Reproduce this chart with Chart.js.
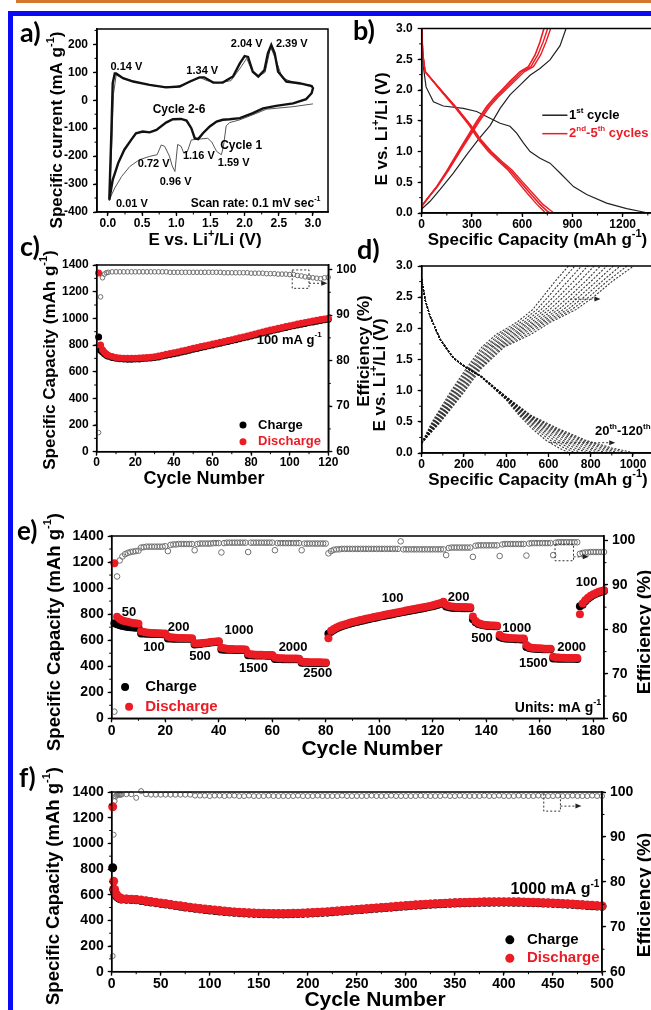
<!DOCTYPE html>
<html>
<head>
<meta charset="utf-8">
<script src="https://cdn.jsdelivr.net/npm/chart.js@4.4.1/dist/chart.umd.min.js"></script>
<style>
html, body { margin: 0; padding: 0; background: #fff; overflow: hidden; }
#wrap { position: relative; width: 651px; height: 1010px; overflow: hidden; background: #fff; }
canvas { position: absolute; }
.bar { position: absolute; left: 16px; top: 0; width: 640px; height: 3px; background: #d4782f; }
.frame { position: absolute; left: 8px; top: 11px; width: 700px; height: 1100px; border-left: 5px solid #0a0af5; border-top: 5px solid #0a0af5; }
</style>
</head>
<body>
<div id="wrap">
  <div class="bar"></div>
  <div class="frame"></div>
  <canvas id="ca"></canvas>
  <canvas id="cb"></canvas>
  <canvas id="cc"></canvas>
  <canvas id="cd"></canvas>
  <canvas id="ce"></canvas>
  <canvas id="cf"></canvas>
</div>
<script>
// ---- a) cyclic voltammetry ----
const cv26V = [0.02,0.05,0.07,0.10,0.12,0.22,0.37,0.61,0.85,1.05,1.20,1.34,1.41,1.54,1.68,1.83,1.93,2.00,2.05,2.12,2.20,2.29,2.34,2.39,2.44,2.49,2.61,2.80,2.98,3.00,
  2.98,2.90,2.71,2.46,2.27,2.12,1.93,1.78,1.68,1.59,1.49,1.39,1.32,1.27,1.22,1.15,1.07,0.95,0.85,0.71,0.61,0.51,0.41,0.34,0.24,0.15,0.07,0.02];
const cv26I = [-356,-118,61,96,96,79,67,55,46,49,67,82,82,63,63,85,132,158,155,102,85,108,168,198,168,102,67,61,51,43,
  25,4,-11,-20,-29,-46,-64,-68,-70,-76,-94,-118,-139,-136,-100,-73,-67,-68,-80,-106,-115,-112,-118,-142,-177,-225,-285,-356];
const cv1V = [3.00,2.71,2.32,2.12,1.93,1.78,1.73,1.69,1.66,1.59,1.52,1.46,1.34,1.22,1.16,1.11,1.07,1.02,0.98,0.94,0.90,0.83,0.78,0.72,0.66,0.61,0.46,0.32,0.20,0.10,0.05,0.02,
  0.05,0.08,0.12,0.22,0.40,0.70,1.00,1.20,1.34,1.45,1.60,1.80,1.95,2.03,2.10,2.20,2.30,2.38,2.45,2.55,2.75,2.95,3.00];
const cv1I = [-13,-23,-32,-52,-70,-80,-92,-165,-195,-183,-150,-136,-139,-142,-185,-189,-165,-158,-255,-235,-200,-165,-160,-195,-198,-201,-213,-237,-273,-314,-340,-360,
  -200,20,90,80,66,50,48,65,82,70,62,70,120,150,110,85,100,190,150,80,60,55,50];

// ---- b) charge/discharge profiles ----
const b1DisCap = [0,10,26,70,129,249,328,408,468,527,567,607,647,706,766,826,906,985,1104,1224,1323,1353];
const b1DisV   = [3.0,2.38,2.05,1.81,1.74,1.70,1.65,1.54,1.46,1.41,1.30,1.14,1.00,0.89,0.81,0.65,0.43,0.30,0.16,0.07,0.016,0];
const b1ChCap  = [0,50,109,189,269,340,408,468,527,587,647,706,766,826,862];
const b1ChV    = [0.065,0.19,0.38,0.65,0.95,1.20,1.42,1.70,1.92,2.08,2.24,2.35,2.49,2.72,3.00];
const bRedDisV = [3.0,2.59,2.30,2.14,1.95,1.70,1.43,1.19,1.00,0.84,0.70,0.51,0.32,0.14,0.04,0];
const bRedDis2 = [0,6,20,70,129,209,289,348,408,468,527,587,647,706,746,766];
const bRedDis3 = [0,6,20,68,125,204,282,340,398,458,515,572,630,688,725,740];
const bRedDis4 = [0,6,20,70,131,212,293,354,416,478,539,601,663,724,770,790];
const bRedChV  = [0.11,0.22,0.43,0.68,1.00,1.27,1.49,1.73,1.89,2.00,2.14,2.30,2.38,2.57,2.78,3.00];
const bRedCh2  = [0,30,90,149,219,279,328,388,438,478,527,587,637,677,706,730];
const bRedCh3  = [0,30,92,153,225,286,336,397,448,489,540,600,652,693,725,752];
const bRedCh4  = [0,30,94,157,230,293,344,406,458,500,552,614,667,710,742,770];

// ---- c) cycling at 100 mA/g ----
const cCycles = [1,2,3,4,5,6,8,10,12,14,16,18,20,22,24,26,28,30,32,34,36,38,40,42,44,46,48,50,52,54,56,58,60,62,64,66,68,70,72,74,76,78,80,82,84,86,88,90,92,94,96,98,100,102,104,106,108,110,112,114,116,118,120];
const cDischarge = [1340,800,765,745,732,724,713,707,703,701,700,700,701,702,704,707,709,712,718,724,730,736,742,748,755,761,768,775,781,788,794,801,807,814,820,827,834,840,847,854,861,868,875,882,890,897,905,912,919,926,932,939,945,951,957,963,969,975,980,986,991,996,1000];
const cCharge = [860,760,748,735,724,716,706,700,697,695,694,694,695,696,698,700,703,706,711,717,723,729,735,741,748,754,761,768,774,781,787,794,800,807,813,820,827,833,840,847,854,861,868,875,883,890,898,905,912,919,925,932,938,944,950,956,962,968,973,979,984,989,993];
const cEff = [64.2,94.0,98.2,99.0,99.3,99.4,99.5,99.5,99.5,99.5,
  99.5,99.5,99.5,99.5,99.5,99.5,99.5,99.5,99.5,99.5,
  99.5,99.4,99.4,99.4,99.4,99.4,99.4,99.4,99.4,99.4,
  99.4,99.4,99.4,99.4,99.4,99.3,99.3,99.3,99.3,99.3,
  99.3,99.3,99.2,99.2,99.2,99.2,99.1,99.1,99.1,99.0,
  99.0,99.0,98.9,98.9,98.7,98.6,98.4,98.3,98.2,98.1,
  98.0,98.2,98.3];

// ---- d) profiles 20th-120th ----
const dCycles = [20,30,40,50,60,70,80,90,100,110,120];
const dChV = [0.16,0.5,1.0,1.35,1.7,1.9,2.1,2.3,2.5,2.75,3.0];
const dChCap = [
  [0,50,140,210,285,352,452,525,572,630,695],
  [0,54,147,218,296,368,470,545,597,660,725],
  [0,58,153,225,306,383,487,565,622,690,756],
  [0,62,160,232,316,398,503,585,646,718,786],
  [0,66,166,239,327,413,519,605,670,746,816],
  [0,70,173,246,337,428,535,627,695,774,846],
  [0,74,179,253,348,443,550,648,719,800,876],
  [0,78,186,260,358,458,565,670,743,826,907],
  [0,82,192,267,369,475,580,690,767,852,940],
  [0,86,199,273,380,495,595,710,790,876,972],
  [0,90,205,280,390,515,610,730,812,900,1003]];
const dDisV = [2.79,2.46,2.19,1.82,1.52,1.36,1.23,1.04,0.85,0.6,0.4,0.2,0.08,0];
const dDisCap = [
  [0,16,40,87,150,213,277,340,400,462,520,590,650,700],
  [0,16,40,87,150,213,278,342,404,468,533,610,676,728],
  [0,16,40,87,150,214,279,343,406,473,545,630,700,757],
  [0,16,40,87,151,214,279,344,408,478,556,650,725,786],
  [0,16,40,87,151,214,280,345,410,484,568,670,750,815],
  [0,16,40,87,151,215,280,346,412,490,580,690,775,845],
  [0,16,40,88,151,215,281,347,414,495,592,710,800,875],
  [0,16,40,88,152,215,281,348,416,501,604,730,826,905],
  [0,16,40,88,152,216,282,349,418,507,616,750,851,935],
  [0,16,40,88,152,216,282,349,419,513,628,765,876,972],
  [0,16,40,88,152,216,282,350,420,520,640,780,900,1010]];

// ---- e) rate capability (one value per cycle, cycle 1..184) ----
const eDischarge = [1190,780,762,752,746,741,736,732,729,726,
  668,662,659,657,656,655,654,653,652,651,
  628,622,620,618,617,616,616,615,615,614,
  576,574,576,579,581,583,585,587,589,592,
  542,537,535,533,532,531,531,530,530,529,
  497,492,490,489,488,488,487,487,486,486,
  467,463,462,461,460,460,459,459,459,458,
  437,433,432,431,431,430,430,430,429,429,
  615,672,686,697,706,714,721,727,733,739,
  744,749,754,759,764,768,773,777,782,786,
  790,795,799,803,807,811,815,819,823,827,
  831,835,839,843,847,851,855,859,863,868,
  873,879,886,895,872,862,858,856,855,855,
  854,854,853,853,782,747,732,724,719,716,
  714,713,712,711,642,627,621,618,616,615,
  614,613,612,612,562,547,542,539,538,537,
  536,535,535,534,472,467,466,465,465,464,
  464,464,463,463,800,882,907,926,941,953,
  963,971,978,984];
const eCharge = [730,722,714,709,705,702,700,698,696,695,
  652,651,650,649,648,648,647,647,646,646,
  613,612,611,611,611,610,610,610,610,609,
  566,568,571,574,577,579,582,584,586,588,
  528,527,526,526,526,525,525,525,524,524,
  485,484,483,483,482,482,482,481,481,481,
  456,455,455,454,454,454,453,453,453,453,
  427,426,426,425,425,425,425,424,424,424,
  650,664,679,690,699,707,714,720,726,732,
  737,742,747,752,757,761,766,770,775,779,
  783,788,792,796,800,804,808,812,816,820,
  824,828,832,836,840,844,848,852,856,861,
  866,872,879,887,858,852,849,848,847,847,
  846,846,845,845,760,738,725,718,714,711,
  709,708,707,706,625,617,613,611,610,609,
  608,607,606,606,548,540,536,534,533,532,
  531,531,530,530,460,459,458,458,458,457,
  457,457,457,456,860,872,898,918,934,946,
  956,964,971,977];
const eEff = [61.5,91.9,95.5,96.4,96.9,97.2,97.4,97.5,97.6,97.7,
  98.4,98.5,98.6,98.6,98.6,98.6,98.6,98.6,98.6,98.7,
  97.6,99.0,99.1,99.1,99.2,99.2,99.2,99.2,99.2,99.2,
  97.8,99.2,99.3,99.3,99.3,99.3,99.3,99.4,99.4,99.4,
  97.3,99.4,99.5,99.5,99.5,99.5,99.5,99.5,99.5,99.5,
  97.4,99.5,99.5,99.5,99.5,99.5,99.5,99.5,99.5,99.5,
  97.8,99.4,99.4,99.4,99.4,99.4,99.4,99.4,99.4,99.4,
  97.8,99.3,99.3,99.3,99.3,99.3,99.3,99.3,99.3,99.3,
  97.1,97.6,97.9,98.0,98.0,98.1,98.1,98.1,98.1,98.1,
  98.1,98.1,98.1,98.1,98.1,98.1,98.1,98.1,98.1,98.1,
  98.1,98.1,98.1,98.1,98.1,98.1,98.1,99.8,98.0,98.0,
  98.0,98.0,98.0,98.0,98.0,98.0,98.0,98.0,98.0,98.0,
  98.0,98.0,98.0,98.0,96.7,98.3,98.4,98.4,98.4,98.4,
  98.4,98.4,98.4,98.4,96.3,98.8,98.9,98.9,98.9,98.9,
  98.9,98.9,98.9,98.9,96.5,99.1,99.2,99.2,99.2,99.2,
  99.2,99.2,99.2,99.2,96.6,99.3,99.4,99.4,99.4,99.4,
  99.4,99.4,99.4,99.4,96.7,99.5,99.6,99.6,99.6,99.6,
  99.6,99.6,99.6,99.6,97.0,97.2,97.3,97.3,97.4,97.4,
  97.4,97.4,97.4,97.4];

// ---- f) long cycling at 1000 mA/g ----
const fCycles = [1,2,3,4,5,6,7,8,9,10,15,20,25,30,35,40,45,50,55,60,65,70,75,80,85,90,95,100,
  105,110,115,120,125,130,135,140,145,150,155,160,165,170,175,180,185,190,195,200,
  205,210,215,220,225,230,235,240,245,250,255,260,265,270,275,280,285,290,295,300,
  305,310,315,320,325,330,335,340,345,350,355,360,365,370,375,380,385,390,395,400,
  405,410,415,420,425,430,435,440,445,450,455,460,465,470,475,480,485,490,495,500];
const fDischarge = [1285,705,640,612,598,588,581,576,572,569,567,565,563,558,552,546,541,535,530,524,518,513,507,502,497,492,488,484,
  480,476,472,469,466,463,461,459,457,456,455,454,453,453,453,454,455,456,457,459,
  461,463,465,467,470,473,476,479,482,485,488,491,494,497,500,503,506,509,512,515,
  518,521,523,526,528,530,532,534,536,538,539,540,541,542,543,544,544,545,545,545,
  545,544,544,543,542,541,540,538,537,535,533,531,529,527,524,522,519,517,514,512];
const fCharge = [810,640,620,600,590,582,576,572,568,566,564,562,560,555,549,543,538,532,527,521,515,510,504,499,494,489,485,481,
  477,473,469,466,463,460,458,456,454,453,452,451,450,450,450,451,452,453,454,456,
  458,460,462,464,467,470,473,476,479,482,485,488,491,494,497,500,503,506,509,512,
  515,518,520,523,525,527,529,531,533,535,536,537,538,539,540,541,541,542,542,542,
  542,541,541,540,539,538,537,535,534,532,530,528,526,524,521,519,516,514,511,509];
const fEff = [63.5,90.5,98.0,99.0,99.3,99.4,99.4,99.4,99.4,99.4,99.5,99.5,98.7,100.2,99.5,99.4,99.4,99.4,99.4,99.4,99.4,99.4,99.4,99.4,99.2,99.2,99.2,99.1,
  99.2,99.2,99.1,99.2,99.2,99.1,99.1,99.2,99.1,99.1,99.1,99.2,99.1,99.1,99.1,99.1,99.1,99.2,99.1,99.1,
  99.1,99.2,99.1,99.1,99.1,99.1,99.2,99.1,99.1,99.1,99.1,99.1,99.2,99.1,99.1,99.1,99.2,99.1,99.1,99.1,
  99.1,99.1,99.2,99.1,99.1,99.1,99.1,99.2,99.1,99.1,99.2,99.1,99.1,99.1,99.1,99.2,99.1,99.1,99.2,99.1,
  99.1,99.1,99.2,99.1,99.1,99.1,99.2,99.1,99.1,99.1,99.2,99.1,99.1,99.2,99.1,99.1,99.1,99.2,99.1,99.1];

const FONT = '"Liberation Sans", Arial, sans-serif';
const RED = '#ec1c24';
const EFFC = '#707070';

function pts(xs, ys) { return xs.map((x, i) => ({ x: x, y: ys[i] })); }

// text with ^{..} superscripts
function rich(ctx, str, x, y, size, color, align, rot, family) {
  const parts = [];
  const re = /\^\{([^}]*)\}/g;
  let last = 0, m;
  while ((m = re.exec(str))) {
    if (m.index > last) parts.push([str.slice(last, m.index), 0]);
    parts.push([m[1], 1]);
    last = re.lastIndex;
  }
  if (last < str.length) parts.push([str.slice(last), 0]);
  const fam = family || FONT;
  const big = 'bold ' + size + 'px ' + fam;
  const small = 'bold ' + Math.round(size * 0.62) + 'px ' + fam;
  ctx.save();
  ctx.translate(x, y);
  if (rot) ctx.rotate(rot);
  let w = 0;
  parts.forEach(p => { ctx.font = p[1] ? small : big; w += ctx.measureText(p[0]).width; });
  let cx = align === 'left' ? 0 : align === 'right' ? -w : -w / 2;
  ctx.fillStyle = color || '#000';
  ctx.textBaseline = 'middle';
  ctx.textAlign = 'left';
  parts.forEach(p => {
    ctx.font = p[1] ? small : big;
    ctx.fillText(p[0], cx, p[1] ? -size * 0.36 : 0);
    cx += ctx.measureText(p[0]).width;
  });
  ctx.restore();
}

const deco = {
  id: 'deco',
  afterDraw(chart, args, o) {
    const ctx = chart.ctx, a = chart.chartArea, sx = chart.scales.x;
    ctx.save();
    ctx.strokeStyle = '#000';
    ctx.lineWidth = 1.5;
    ctx.strokeRect(a.left, a.top, a.right - a.left, a.bottom - a.top);
    // minor ticks
    ctx.lineWidth = 1;
    (o.minor || []).forEach(mn => {
      const s = chart.scales[mn.id];
      ctx.beginPath();
      for (let v = Math.ceil(s.min / mn.step) * mn.step; v <= s.max + 1e-9; v += mn.step) {
        const p = s.getPixelForValue(v);
        if (s.isHorizontal()) { ctx.moveTo(p, a.bottom); ctx.lineTo(p, a.bottom + 2.5); }
        else if (s.position === 'right') { ctx.moveTo(a.right, p); ctx.lineTo(a.right + 2.5, p); }
        else { ctx.moveTo(a.left, p); ctx.lineTo(a.left - 2.5, p); }
      }
      ctx.stroke();
    });
    // dashed boxes
    ctx.setLineDash([2, 2]);
    ctx.strokeStyle = '#333';
    (o.boxes || []).forEach(b => {
      const sy = chart.scales[b.ax || 'y'];
      const x1 = sx.getPixelForValue(b.x1), x2 = sx.getPixelForValue(b.x2);
      const y1 = sy.getPixelForValue(b.y1), y2 = sy.getPixelForValue(b.y2);
      ctx.strokeRect(x1, y1, x2 - x1, y2 - y1);
    });
    (o.arrows || []).forEach(r => {
      const sy = chart.scales[r.ax || 'y'];
      const x1 = sx.getPixelForValue(r.x1), x2 = sx.getPixelForValue(r.x2), y = sy.getPixelForValue(r.y);
      ctx.setLineDash([2, 2]);
      ctx.beginPath(); ctx.moveTo(x1, y); ctx.lineTo(x2 - 4, y); ctx.stroke();
      ctx.setLineDash([]);
      ctx.fillStyle = '#222';
      ctx.beginPath(); ctx.moveTo(x2, y); ctx.lineTo(x2 - 6, y - 2.5); ctx.lineTo(x2 - 6, y + 2.5); ctx.closePath(); ctx.fill();
    });
    ctx.setLineDash([]);
    // legend lines
    (o.lines || []).forEach(l => {
      const sy = chart.scales.y;
      ctx.strokeStyle = l.c; ctx.lineWidth = 1.5;
      ctx.beginPath();
      ctx.moveTo(sx.getPixelForValue(l.x1), sy.getPixelForValue(l.y));
      ctx.lineTo(sx.getPixelForValue(l.x2), sy.getPixelForValue(l.y));
      ctx.stroke();
    });
    // legend dots
    (o.dots || []).forEach(d => {
      const sy = chart.scales[d.ax || 'y'];
      ctx.fillStyle = d.c;
      ctx.beginPath(); ctx.arc(sx.getPixelForValue(d.x), sy.getPixelForValue(d.y), d.r, 0, Math.PI * 2); ctx.fill();
    });
    ctx.restore();
    // texts in data coordinates
    (o.texts || []).forEach(t => {
      const sy = chart.scales[t.ax || 'y'];
      rich(ctx, t.t, sx.getPixelForValue(t.x), sy.getPixelForValue(t.y), t.s, t.c, t.al || 'center', 0);
    });
    // texts in page coordinates (axis titles, panel letters)
    const bx = o.box;
    (o.page || []).forEach(t => {
      rich(ctx, t.t, t.px - bx.x, t.py - bx.y, t.s, t.c, t.al || 'center', t.rot ? -Math.PI / 2 : 0, t.fam);
    });
  }
};

function axis(pos, min, max, step, size, fmt, pad) {
  return {
    type: 'linear', position: pos, min: min, max: max,
    grid: { drawOnChartArea: false, drawTicks: true, tickLength: 4, tickWidth: 1.3, tickColor: '#000' },
    border: { display: true, color: '#000', width: 1.5 },
    ticks: {
      stepSize: step, includeBounds: false, autoSkip: false, maxRotation: 0, padding: pad,
      color: '#000', font: { family: FONT, size: size, weight: 'bold' },
      callback: fmt || (v => String(v))
    }
  };
}
const f1 = v => v.toFixed(1);

function build(id, box, plot, sc, datasets, dec) {
  const cv = document.getElementById(id);
  cv.width = box.w; cv.height = box.h;
  cv.style.left = box.x + 'px'; cv.style.top = box.y + 'px';
  cv.style.width = box.w + 'px'; cv.style.height = box.h + 'px';
  const L = plot.l - box.x, T = plot.t - box.y, R = box.x + box.w - plot.r, B = box.y + box.h - plot.b;
  sc.x.afterFit = s => { s.height = B; };
  sc.y.afterFit = s => { s.width = L; };
  if (sc.y2) sc.y2.afterFit = s => { s.width = R; };
  dec.box = box;
  return new Chart(cv, {
    type: 'scatter',
    data: { datasets: datasets },
    options: {
      responsive: false, animation: false, devicePixelRatio: 1,
      layout: { padding: { left: 0, top: T, right: sc.y2 ? 0 : R, bottom: 0 } },
      scales: sc,
      plugins: { legend: { display: false }, tooltip: { enabled: false }, deco: dec }
    },
    plugins: [deco]
  });
}

function line(data, color, width, dash) {
  return { data: data, showLine: true, pointRadius: 0, borderColor: color, borderWidth: width, borderDash: dash || [], tension: 0, clip: false };
}
function dotsSet(data, color, r, axisId) {
  return { data: data, showLine: false, pointRadius: r, pointBackgroundColor: color, pointBorderWidth: 0, yAxisID: axisId || 'y', clip: false };
}
function ringSet(data, r) {
  return { data: data, showLine: false, pointRadius: r, pointBackgroundColor: 'rgba(255,255,255,0)', pointBorderColor: EFFC, pointBorderWidth: 1, yAxisID: 'y2', clip: false };
}

// ---------- panel a ----------
build('ca', { x: 0, y: 14, w: 340, h: 240 }, { l: 97, t: 29, r: 328, b: 212 },
  { x: axis('bottom', -0.16, 3.22, 0.5, 12, f1, 0), y: axis('left', -400, 255, 100, 12, null, 5) },
  [line(pts(cv26V, cv26I), '#111', 2.4), line(pts(cv1V, cv1I), '#555', 1)],
  {
    minor: [{ id: 'x', step: 0.25 }, { id: 'y', step: 50 }],
    texts: [
      { x: 0.27, y: 120, t: '0.14 V', s: 11 }, { x: 1.38, y: 106, t: '1.34 V', s: 11 },
      { x: 2.03, y: 201, t: '2.04 V', s: 11 }, { x: 2.69, y: 201, t: '2.39 V', s: 11 },
      { x: 1.04, y: -35, t: 'Cycle 2-6', s: 12 }, { x: 1.95, y: -162, t: 'Cycle 1', s: 12 },
      { x: 0.67, y: -227, t: '0.72 V', s: 11 }, { x: 0.99, y: -291, t: '0.96 V', s: 11 },
      { x: 1.33, y: -201, t: '1.16 V', s: 11 }, { x: 1.84, y: -223, t: '1.59 V', s: 11 },
      { x: 0.35, y: -370, t: '0.01 V', s: 11 }, { x: 2.16, y: -370, t: 'Scan rate: 0.1 mV sec^{-1}', s: 12 }
    ],
    page: [
      { px: 57, py: 130, t: 'Specific current (mA g^{-1})', s: 17, rot: 1 },
      { px: 205, py: 240, t: 'E vs. Li^{+}/Li (V)', s: 17 },
      { px: 20, py: 33, t: 'a)', s: 27, al: 'left', fam: 'Lato, sans-serif' }
    ]
  });

// ---------- panel b ----------
build('cb', { x: 340, y: 14, w: 320, h: 240 }, { l: 421.7, t: 28.5, r: 652, b: 213 },
  { x: axis('bottom', 0, 1375, 300, 12, null, 0), y: axis('left', 0, 3, 0.5, 12, f1, 5) },
  [
    line(pts(bRedDis2, bRedDisV), RED, 1.6), line(pts(bRedDis3, bRedDisV), RED, 1.4), line(pts(bRedDis4, bRedDisV), RED, 1.4),
    line(pts(bRedCh2, bRedChV), RED, 1.6), line(pts(bRedCh3, bRedChV), RED, 1.4), line(pts(bRedCh4, bRedChV), RED, 1.4),
    line(pts(b1DisCap, b1DisV), '#222', 1.2), line(pts(b1ChCap, b1ChV), '#222', 1.2)
  ],
  {
    minor: [{ id: 'x', step: 150 }, { id: 'y', step: 0.25 }],
    lines: [{ x1: 720, x2: 870, y: 1.59, c: '#222' }, { x1: 720, x2: 870, y: 1.29, c: RED }],
    texts: [
      { x: 880, y: 1.59, t: '1^{st} cycle', s: 13, al: 'left' },
      { x: 880, y: 1.29, t: '2^{nd}-5^{th} cycles', s: 13, al: 'left', c: RED }
    ],
    page: [
      { px: 382.5, py: 129, t: 'E vs. Li^{+}/Li (V)', s: 17, rot: 1 },
      { px: 537.5, py: 240, t: 'Specific Capacity (mAh g^{-1})', s: 17 },
      { px: 353, py: 31, t: 'b)', s: 27, al: 'left', fam: 'Lato, sans-serif' }
    ]
  });

// ---------- panel c ----------
build('cc', { x: 0, y: 232, w: 380, h: 258 }, { l: 96.7, t: 265, r: 328.3, b: 451.7 },
  { x: axis('bottom', 0, 120, 20, 12, null, 0), y: axis('left', 0, 1400, 200, 12, null, 4), y2: axis('right', 60, 101, 10, 12, null, 4) },
  [
    dotsSet(pts(cCycles, cDischarge), RED, 3.5), dotsSet(pts(cCycles, cCharge), '#000', 3.5),
    ringSet(pts(cCycles, cEff), 2.3)
  ],
  {
    minor: [{ id: 'x', step: 10 }, { id: 'y', step: 100 }, { id: 'y2', step: 5 }],
    boxes: [{ x1: 101.3, x2: 110, y1: 1363, y2: 1225 }],
    arrows: [{ x1: 110, x2: 119.5, y: 1263 }],
    dots: [{ x: 75.8, y: 200, r: 3.5, c: '#000' }, { x: 75.8, y: 75, r: 3.5, c: RED }],
    texts: [
      { x: 83.6, y: 200, t: 'Charge', s: 13, al: 'left' },
      { x: 83.6, y: 75, t: 'Discharge', s: 13, al: 'left', c: RED },
      { x: 99.7, y: 838, t: '100 mA g^{-1}', s: 13 }
    ],
    page: [
      { px: 50, py: 360, t: 'Specific Capacity (mAh g^{-1})', s: 17, rot: 1 },
      { px: 204, py: 479, t: 'Cycle Number', s: 18 },
      { px: 364, py: 351, t: 'Efficiency (%)', s: 17, rot: 1 },
      { px: 20, py: 247, t: 'c)', s: 27, al: 'left', fam: 'Lato, sans-serif' }
    ]
  });

// ---------- panel d ----------
const dSets = [];
dCycles.forEach((c, i) => {
  dSets.push(line(pts(dChCap[i], dChV), 'rgba(20,20,20,0.85)', 1.1, [2, 1.5]));
  dSets.push(line(pts(dDisCap[i], dDisV), 'rgba(20,20,20,0.85)', 1.1, [2, 1.5]));
});
build('cd', { x: 340, y: 232, w: 320, h: 258 }, { l: 421.7, t: 266, r: 652, b: 453 },
  { x: axis('bottom', 0, 1090, 200, 12, null, 0), y: axis('left', 0, 3, 0.5, 12, f1, 5) },
  dSets,
  {
    minor: [{ id: 'x', step: 100 }, { id: 'y', step: 0.25 }],
    arrows: [{ x1: 703, x2: 846, y: 2.47 }, { x1: 608, x2: 916, y: 0.165 }],
    texts: [{ x: 820, y: 0.34, t: '20^{th}-120^{th}', s: 13, al: 'left' }],
    page: [
      { px: 380.5, py: 375, t: 'E vs. Li^{+}/Li (V)', s: 17, rot: 1 },
      { px: 538, py: 480, t: 'Specific Capacity (mAh g^{-1})', s: 17 },
      { px: 357, py: 250, t: 'd)', s: 27, al: 'left', fam: 'Lato, sans-serif' }
    ]
  });

// ---------- panel e ----------
const eCyc = eDischarge.map((v, i) => i + 1);
build('ce', { x: 0, y: 488, w: 660, h: 270 }, { l: 111.7, t: 536, r: 604, b: 718.3 },
  { x: axis('bottom', 0, 184, 20, 14, null, 0), y: axis('left', 0, 1400, 200, 14, null, 4), y2: axis('right', 60, 101, 10, 14, null, 4) },
  [
    dotsSet(pts(eCyc, eDischarge), RED, 4), dotsSet(pts(eCyc, eCharge), '#000', 4),
    ringSet(pts(eCyc, eEff), 2.8)
  ],
  {
    minor: [{ id: 'x', step: 10 }, { id: 'y', step: 100 }, { id: 'y2', step: 5 }],
    boxes: [{ x1: 165.7, x2: 172.6, y1: 1337, y2: 1210 }],
    arrows: [{ x1: 172.6, x2: 178.3, y: 1240 }],
    dots: [{ x: 5, y: 241, r: 4, c: '#000' }, { x: 6.5, y: 89, r: 4, c: RED }],
    texts: [
      { x: 12.5, y: 241, t: 'Charge', s: 15, al: 'left' },
      { x: 12.5, y: 89, t: 'Discharge', s: 15, al: 'left', c: RED },
      { x: 6.5, y: 814, t: '50', s: 13 }, { x: 15.8, y: 547, t: '100', s: 13 },
      { x: 25, y: 700, t: '200', s: 13 }, { x: 33, y: 478, t: '500', s: 13 },
      { x: 47.6, y: 675, t: '1000', s: 13 }, { x: 53, y: 382, t: '1500', s: 13 },
      { x: 67.8, y: 547, t: '2000', s: 13 }, { x: 77, y: 344, t: '2500', s: 13 },
      { x: 105, y: 917, t: '100', s: 13 }, { x: 129.7, y: 929, t: '200', s: 13 },
      { x: 138.4, y: 611, t: '500', s: 13 }, { x: 151.4, y: 688, t: '1000', s: 13 },
      { x: 157.6, y: 425, t: '1500', s: 13 }, { x: 171.9, y: 547, t: '2000', s: 13 },
      { x: 177.5, y: 1044, t: '100', s: 13 },
      { x: 183, y: 81, t: 'Units: mA g^{-1}', s: 14, al: 'right' }
    ],
    page: [
      { px: 55, py: 632, t: 'Specific Capacity (mAh g^{-1})', s: 18.5, rot: 1 },
      { px: 372, py: 749, t: 'Cycle Number', s: 21 },
      { px: 645, py: 632, t: 'Efficiency (%)', s: 19, rot: 1 },
      { px: 17, py: 532, t: 'e)', s: 26, al: 'left', fam: 'Lato, sans-serif' }
    ]
  });

// ---------- panel f ----------
build('cf', { x: 0, y: 745, w: 660, h: 265 }, { l: 111.7, t: 792, r: 602, b: 971.7 },
  { x: axis('bottom', 0, 500, 50, 14, null, 0), y: axis('left', 0, 1400, 200, 14, null, 4), y2: axis('right', 60, 100, 10, 14, null, 4) },
  [
    dotsSet(pts(fCycles, fDischarge), RED, 4.5), dotsSet(pts(fCycles, fCharge), '#000', 4.5),
    ringSet(pts(fCycles, fEff), 2.5)
  ],
  {
    minor: [{ id: 'x', step: 25 }, { id: 'y', step: 100 }, { id: 'y2', step: 5 }],
    boxes: [{ x1: 440.6, x2: 457.6, y1: 1400, y2: 1251 }],
    arrows: [{ x1: 457.6, x2: 479, y: 1290 }],
    dots: [{ x: 406, y: 248, r: 4.5, c: '#000' }, { x: 406, y: 105, r: 4.5, c: RED }],
    texts: [
      { x: 423.5, y: 248, t: 'Charge', s: 15, al: 'left' },
      { x: 423.5, y: 105, t: 'Discharge', s: 15, al: 'left', c: RED },
      { x: 452, y: 640, t: '1000 mA g^{-1}', s: 16 }
    ],
    page: [
      { px: 54, py: 886, t: 'Specific Capacity (mAh g^{-1})', s: 18.5, rot: 1 },
      { px: 375, py: 1000, t: 'Cycle Number', s: 21 },
      { px: 645, py: 895, t: 'Efficiency (%)', s: 19, rot: 1 },
      { px: 19, py: 779, t: 'f)', s: 26, al: 'left', fam: 'Lato, sans-serif' }
    ]
  });
</script>
</body>
</html>
